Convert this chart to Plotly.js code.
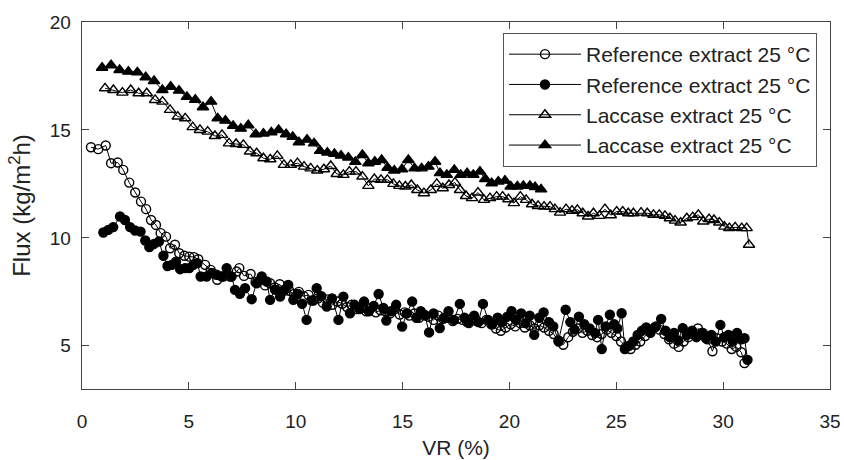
<!DOCTYPE html>
<html>
<head>
<meta charset="utf-8">
<script src="https://cdn.plot.ly/plotly-3.0.1.min.js"></script>
<style>html,body{margin:0;padding:0;background:#fff;}#chart{width:844px;height:460px;}</style>
</head>
<body>
<div id="chart"></div>
<script>
// Reference extract 25 °C (open circles)
const refOpenX = [0.42,0.76,1.11,1.36,1.67,1.93,2.21,2.49,2.76,3.00,3.23,3.46,3.68,3.93,4.12,4.35,4.55,4.79,5.02,5.24,5.44,5.76,6.02,6.33,6.61,6.93,7.24,7.36,7.58,7.89,
  8.12,8.35,8.57,8.80,9.02,9.25,9.47,9.70,9.92,10.15,10.37,10.60,10.82,11.05,11.27,11.50,11.72,11.95,12.17,12.40,12.62,12.85,13.07,13.30,13.52,13.75,13.97,14.20,14.42,14.65,14.87,
  15.10,15.32,15.55,15.77,16.00,16.22,16.45,16.67,16.90,17.12,17.35,17.57,17.80,18.02,18.25,18.47,18.70,18.92,19.15,19.37,19.60,19.82,20.05,20.27,20.50,20.72,20.95,21.17,21.40,
  21.62,21.85,22.07,22.30,22.52,22.75,22.97,23.20,23.42,23.65,23.87,24.10,24.32,24.55,24.77,25.00,25.22,25.45,25.67,25.90,26.12,26.35,26.57,26.80,27.02,27.25,27.47,27.70,27.92,
  28.15,28.37,28.60,28.82,29.05,29.27,29.50,29.72,29.95,30.17,30.40,30.62,30.85,31.00];
const refOpenY = [14.20,14.11,14.28,13.46,13.49,13.15,12.56,12.10,11.68,11.33,10.83,10.60,10.22,10.06,9.52,9.68,9.29,9.17,9.13,9.11,9.01,8.75,8.52,8.06,8.21,8.21,8.44,8.60,8.24,8.33,
  7.95,8.05,7.80,7.90,7.70,7.85,7.60,7.55,7.40,7.50,7.30,7.36,7.10,7.20,7.00,7.15,6.90,7.05,6.95,6.80,6.90,6.70,6.75,6.60,6.75,6.55,6.65,6.60,6.50,6.70,6.45,
  6.55,6.40,6.50,6.30,6.45,6.35,6.20,6.40,6.25,6.30,6.15,6.25,6.20,6.10,6.25,6.15,6.05,6.20,6.00,5.80,5.70,5.85,6.00,5.90,6.05,5.85,5.95,5.80,5.95,
  5.85,5.70,5.55,5.20,5.05,5.40,5.65,5.80,5.60,5.70,5.50,5.40,5.55,5.75,5.60,5.45,5.20,4.95,4.85,5.05,5.20,5.45,5.70,5.85,5.75,5.55,5.30,5.10,4.95,
  5.20,5.40,5.55,5.80,5.60,5.30,4.75,5.35,5.20,5.10,4.85,4.95,4.70,4.20];

// Reference extract 25 °C (filled circles)
const refFillX = [1.00,1.23,1.46,1.78,2.01,2.25,2.48,2.74,2.96,3.15,3.37,3.60,3.81,4.00,4.20,4.40,4.59,4.82,5.02,5.21,5.40,5.55,5.83,6.07,6.30,6.54,6.77,7.00,7.16,7.39,7.63,7.94,8.17,8.41,
  8.64,8.80,9.03,9.27,9.45,9.65,9.89,10.10,10.30,10.51,10.75,10.98,11.20,11.45,11.70,12.00,12.23,12.54,12.75,12.98,13.20,13.42,13.65,13.88,14.10,14.24,14.45,14.70,14.98,
  15.20,15.45,15.65,15.85,16.05,16.24,16.45,16.74,16.95,17.15,17.40,17.68,17.90,18.10,18.35,18.55,18.76,19.00,19.20,19.45,19.65,19.90,20.10,20.30,20.55,20.75,20.95,
  21.16,21.40,21.60,21.85,22.05,22.30,22.63,22.85,23.05,23.25,23.50,23.75,24.00,24.15,24.32,24.50,24.70,24.90,25.05,25.25,25.40,25.60,25.80,26.00,26.20,26.40,26.60,26.85,
  27.10,27.30,27.50,27.70,27.90,28.11,28.30,28.55,28.75,29.00,29.20,29.45,29.65,29.87,30.05,30.25,30.45,30.65,30.85,31.00,31.14];
const refFillY = [10.25,10.37,10.50,10.99,10.83,10.50,10.34,10.29,9.88,9.57,9.72,9.83,9.17,8.70,8.75,8.90,8.55,8.60,8.60,8.75,8.83,8.21,8.21,8.37,8.29,8.21,8.60,8.21,7.59,7.41,7.67,7.16,7.90,8.21,
  7.98,7.13,7.60,7.28,7.55,7.82,7.13,7.40,6.95,6.20,7.10,7.67,7.30,6.82,7.20,6.20,7.28,6.51,6.90,6.70,7.05,6.60,6.85,7.40,6.75,6.17,6.60,6.90,5.89,
  6.50,7.05,6.30,6.60,6.40,5.62,6.50,5.82,6.30,6.60,6.20,6.94,6.30,6.05,6.40,6.10,6.94,6.20,6.00,6.30,6.10,6.35,6.60,6.20,6.50,6.05,6.40,
  5.51,6.30,6.55,6.10,5.90,5.25,6.67,6.10,5.75,6.35,6.00,5.80,5.60,6.20,4.85,5.90,6.44,6.00,5.80,6.51,4.85,5.00,5.20,5.50,5.70,5.85,5.60,5.90,
  6.24,5.70,5.40,5.60,5.25,5.82,5.50,5.70,5.40,5.60,5.35,5.50,5.20,5.97,5.40,5.50,5.20,5.60,5.30,5.35,4.35];

// Laccase extract 25 °C (open triangles)
const lacOpenX = [1.08,1.47,1.89,2.28,2.65,3.03,3.42,3.77,4.12,4.48,4.83,5.18,5.52,5.88,6.22,6.55,6.88,7.21,7.55,7.86,8.17,8.49,8.81,9.14,9.45,9.77,10.08,10.39,10.70,11.01,11.32,11.64,11.92,12.23,
  12.51,12.82,13.12,13.40,13.68,13.99,14.29,14.57,14.85,15.13,15.41,15.69,16.00,16.32,16.60,16.88,17.17,17.45,17.69,17.97,18.25,18.53,18.81,19.09,19.40,19.68,19.95,20.21,20.51,20.78,
  21.06,21.34,21.62,21.90,22.13,22.37,22.65,22.93,23.18,23.43,23.68,23.93,24.21,24.47,24.74,25.02,25.30,25.56,25.80,26.16,26.45,26.74,27.01,27.28,27.51,27.75,28.01,28.30,28.58,28.84,
  29.07,29.34,29.57,29.82,30.06,30.29,30.56,30.87,31.10,31.21];
const lacOpenY = [16.93,16.85,16.73,16.85,16.70,16.70,16.39,16.31,15.93,15.62,15.54,15.13,15.00,14.92,14.72,14.77,14.38,14.35,14.31,14.00,13.92,13.69,13.64,13.80,13.38,13.38,13.46,13.30,13.22,13.12,13.18,13.33,12.96,12.92,
  13.07,13.07,12.84,12.41,12.73,12.69,12.69,12.50,12.41,12.38,12.45,12.22,12.07,12.22,12.50,12.30,12.45,12.56,12.22,11.94,11.84,12.10,11.76,11.84,11.91,11.91,11.79,11.61,11.91,11.76,
  11.56,11.48,11.45,11.45,11.33,11.17,11.33,11.26,11.30,11.14,10.99,11.14,11.02,11.33,11.05,11.22,11.22,11.14,11.14,11.17,11.14,11.07,11.07,11.02,10.91,10.80,10.71,10.91,10.96,11.07,
  10.76,10.87,10.83,10.71,10.52,10.45,10.49,10.45,10.45,9.68];

// Laccase extract 25 °C (filled triangles)
const lacFillX = [0.94,1.36,1.76,2.17,2.59,2.98,3.37,3.76,4.15,4.54,4.91,5.30,5.66,6.04,6.35,6.71,7.07,7.43,7.78,8.13,8.49,8.86,9.20,9.55,9.86,10.15,10.53,10.86,11.14,11.48,11.81,12.12,12.46,12.79,
  13.12,13.40,13.70,14.02,14.30,14.61,14.97,15.27,15.56,15.89,16.21,16.52,16.75,17.07,17.42,17.72,18.02,18.31,18.62,18.87,19.17,19.48,19.79,20.06,20.37,20.65,20.96,21.20,21.48];
const lacFillY = [17.88,18.00,17.78,17.70,17.67,17.44,17.27,16.85,17.00,16.82,16.53,16.40,16.05,16.31,15.54,15.43,15.19,15.06,15.22,14.80,14.83,14.89,15.00,14.80,14.68,14.43,14.55,14.38,14.03,13.95,13.89,13.81,13.72,13.52,
  13.84,13.46,13.53,13.61,13.25,13.12,13.18,13.61,13.22,13.22,13.30,13.53,13.00,12.92,13.15,12.92,13.00,12.92,13.07,12.73,12.53,12.61,12.65,12.38,12.38,12.41,12.41,12.35,12.25];

const seriesNames = ['Reference extract 25 °C','Reference extract 25 °C','Laccase extract 25 °C','Laccase extract 25 °C'];
const xTicks = [0,5,10,15,20,25,30,35];
const yTicks = [5,10,15,20];

function tr(x, y, name, symbol, size, grp){
  return {
    x: x, y: y, name: name, type: 'scatter', mode: 'lines+markers',
    legendgroup: grp,
    line: {color: '#000', width: 1},
    marker: {symbol: symbol, size: size, color: '#000',
             line: {color: '#000', width: 1.4}}
  };
}
const data = [
  tr(refOpenX, refOpenY, seriesNames[0], 'circle-open', 9, 'a'),
  tr(refFillX, refFillY, seriesNames[1], 'circle', 9, 'b'),
  tr(lacOpenX, lacOpenY, seriesNames[2], 'triangle-up-open', 10, 'c'),
  tr(lacFillX, lacFillY, seriesNames[3], 'triangle-up', 10, 'd')
];
const fontFam = 'Liberation Sans, Arial, sans-serif';
const layout = {
  width: 844, height: 460,
  margin: {l: 82, r: 14, t: 22, b: 71},
  paper_bgcolor: '#fff', plot_bgcolor: '#fff',
  font: {family: fontFam, color: '#222', size: 19},
  showlegend: true,
  xaxis: {
    range: [0, 35], tickvals: xTicks, ticktext: xTicks.map(String),
    ticks: 'inside', ticklen: 7, tickcolor: '#444', tickwidth: 1,
    showline: true, linecolor: '#444', linewidth: 1.3, mirror: 'ticks',
    showgrid: false, zeroline: false, ticklabelstandoff: 15,
    tickfont: {size: 19, family: fontFam, color: '#222'},
    title: {text: 'VR (%)', font: {size: 21, family: fontFam, color: '#222'}, standoff: 9}
  },
  yaxis: {
    range: [3, 20], tickvals: yTicks, ticktext: yTicks.map(String),
    ticks: 'inside', ticklen: 7, tickcolor: '#444', tickwidth: 1,
    showline: true, linecolor: '#444', linewidth: 1.3, mirror: 'ticks',
    showgrid: false, zeroline: false, ticklabelstandoff: 6,
    tickfont: {size: 19, family: fontFam, color: '#222'},
    title: {text: 'Flux (kg/m<sup>2</sup>h)', font: {size: 24, family: fontFam, color: '#222'}, standoff: 12}
  },
  legend: {
    x: 0.9826, xanchor: 'right', y: 0.97, yanchor: 'top',
    bgcolor: '#fff', bordercolor: '#555', borderwidth: 1,
    font: {size: 21, family: fontFam, color: '#222'},
    traceorder: 'grouped', tracegroupgap: 0, itemwidth: 72
  }
};
Plotly.newPlot('chart', data, layout, {displayModeBar: false, staticPlot: true});
</script>
</body>
</html>
